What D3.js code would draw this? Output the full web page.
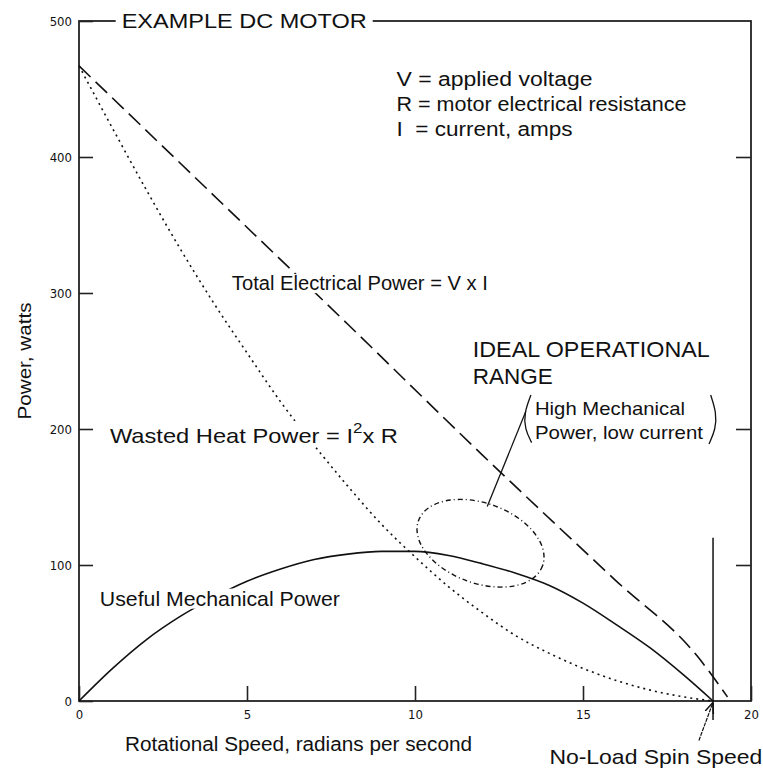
<!DOCTYPE html>
<html>
<head>
<meta charset="utf-8">
<script src="https://cdn.jsdelivr.net/npm/d3@7"></script>
<style>
  body { margin: 0; background: #fff; }
  text { font-family: "Liberation Sans", Arial, sans-serif; fill: #111; }
  .tick text { font-family: "DejaVu Sans Condensed", "Liberation Sans Narrow", sans-serif; font-size: 13px; }
</style>
</head>
<body>
<div id="chart"></div>
<script>
// rotational speed, radians per second
const speed = [0, 1, 2, 3, 4, 5, 6, 7, 8, 9, 10, 11, 12, 13, 14, 15, 16, 17, 18, 18.87];
// watts
const mechPower = [0, 24, 45, 62, 76, 88, 97, 104, 108, 110, 110, 107, 101, 94, 85, 72, 56, 39, 19, 0];
const heatPower = [467, 421, 376, 333, 293, 256, 220, 188, 158, 130, 106, 84, 65, 48, 35, 24, 15, 8, 3, 0];
const elecSpeed = [0, 4, 8, 12, 16, 18.4, 19.3];
const elecPower = [467, 372, 277, 181, 88, 33, 3];

const xTicks = [0, 5, 10, 15, 20];
const yTicks = [0, 100, 200, 300, 400, 500];
const yTicksRight = [100, 200, 400];
const noLoadSpeed = 18.87;

const legendLines = ["V = applied voltage", "R = motor electrical resistance", "I\u00a0\u00a0= current, amps"];
const legendWidths = [196, 290, 176];

const width = 763, height = 770;
const margin = {top: 21, right: 12, bottom: 69, left: 79};
const w = width - margin.left - margin.right;
const h = height - margin.top - margin.bottom;

const svg = d3.select("#chart").append("svg")
  .attr("width", width)
  .attr("height", height);

const g = svg.append("g")
  .attr("transform", `translate(${margin.left},${margin.top})`);

const x = d3.scaleLinear().domain([0, 20]).range([0, w]);
const y = d3.scaleLinear().domain([0, 500]).range([h, 0]);

// frame
g.append("rect")
  .attr("width", w).attr("height", h)
  .attr("fill", "none").attr("stroke", "#222").attr("stroke-width", 1.8);

// axes (ticks point inward)
const xAxis = g.append("g")
  .attr("transform", `translate(0,${h})`)
  .call(d3.axisBottom(x).tickValues(xTicks).tickSize(-15).tickPadding(9));
const yAxis = g.append("g")
  .call(d3.axisLeft(y).tickValues(yTicks).tickSize(-14).tickPadding(7));
const yAxisR = g.append("g")
  .attr("transform", `translate(${w},0)`)
  .call(d3.axisRight(y).tickValues(yTicksRight).tickSize(-15).tickFormat(""));
[xAxis, yAxis, yAxisR].forEach(a => {
  a.select(".domain").remove();
  a.selectAll(".tick line").attr("stroke", "#222").attr("stroke-width", 1.6);
  a.selectAll(".tick text").attr("fill", "#111");
});

// curves
const line = (xs, ys, curve) => d3.line()
  .x((d, i) => x(xs[i]))
  .y(d => y(d))
  .curve(curve)(ys);

g.append("path")
  .attr("d", line(elecSpeed, elecPower, d3.curveMonotoneX))
  .attr("fill", "none").attr("stroke", "#111").attr("stroke-width", 1.6)
  .attr("stroke-dasharray", "16,7");

g.append("path")
  .attr("d", line(speed, heatPower, d3.curveMonotoneX))
  .attr("fill", "none").attr("stroke", "#111").attr("stroke-width", 1.6)
  .attr("stroke-dasharray", "2,4");

g.append("path")
  .attr("d", line(speed, mechPower, d3.curveMonotoneX))
  .attr("fill", "none").attr("stroke", "#111").attr("stroke-width", 1.6);

// ideal operational range ellipse
const ell = {cx: 11.95, cy: 116, rx: 66, ry: 40, rot: 20};
g.append("ellipse")
  .attr("transform", `translate(${x(ell.cx)},${y(ell.cy)}) rotate(${ell.rot})`)
  .attr("rx", ell.rx).attr("ry", ell.ry)
  .attr("fill", "none").attr("stroke", "#111").attr("stroke-width", 1.4)
  .attr("stroke-dasharray", "5,3,1,3");

// leader from ellipse to the label
g.append("line")
  .attr("x1", x(13.3)).attr("y1", y(213))
  .attr("x2", x(12.15)).attr("y2", y(143))
  .attr("stroke", "#111").attr("stroke-width", 1.3);

// no-load spin speed marker
g.append("line")
  .attr("x1", x(noLoadSpeed)).attr("y1", y(120))
  .attr("x2", x(noLoadSpeed)).attr("y2", y(-14))
  .attr("stroke", "#111").attr("stroke-width", 1.5);

svg.append("defs").append("marker")
  .attr("id", "arrow")
  .attr("viewBox", "0 0 10 10").attr("refX", 10).attr("refY", 5)
  .attr("markerWidth", 9).attr("markerHeight", 9)
  .attr("orient", "auto")
  .append("path").attr("d", "M0,1 L10,5 L0,9")
  .attr("fill", "none").attr("stroke", "#111").attr("stroke-width", 1.4);

g.append("line")
  .attr("x1", x(18.45)).attr("y1", y(-29))
  .attr("x2", x(noLoadSpeed)).attr("y2", y(-1))
  .attr("stroke", "#111").attr("stroke-width", 1.2)
  .attr("stroke-dasharray", "4,1")
  .attr("marker-end", "url(#arrow)");

// labels; a white backing makes the curves break around them
function backing(parent, t, pad) {
  const b = t.node().getBBox();
  parent.insert("rect", () => t.node())
    .attr("x", b.x - pad).attr("y", b.y + 2)
    .attr("width", b.width + 2 * pad).attr("height", b.height - 3)
    .attr("fill", "#fff");
}
function label(parent, txt, px, py, size, len, bg) {
  const t = parent.append("text")
    .attr("x", px).attr("y", py)
    .style("font-size", size + "px")
    .text(txt);
  if (len) t.attr("textLength", len).attr("lengthAdjust", "spacingAndGlyphs");
  if (bg) backing(parent, t, bg);
  return t;
}

label(g, "EXAMPLE DC MOTOR", x(1.27), y(500) + 7, 21, 245, 6);

legendLines.forEach((s, i) => {
  label(g, s, x(9.45), 65 + i * 25, 20, legendWidths[i], 0);
});

label(g, "Total Electrical Power = V x I", x(4.55), y(308) + 8, 20, 256, 3);

const heat = label(g, "Wasted Heat Power = I", x(0.92), y(192) + 3, 21, 0, 0);
heat.append("tspan").attr("dy", -10).style("font-size", "15px").text("2");
heat.append("tspan").attr("dy", 10).text("x R");
heat.attr("textLength", 288).attr("lengthAdjust", "spacingAndGlyphs");
backing(g, heat, 3);

label(g, "Useful Mechanical Power", x(0.62), y(76) + 8, 21, 240, 3);

label(g, "IDEAL OPERATIONAL", x(11.72), y(254) + 1, 22, 237, 0);
label(g, "RANGE", x(11.72), y(254) + 28, 22, 80, 0);
label(g, "High Mechanical", x(13.57), y(210), 19, 150, 0);
label(g, "Power, low current", x(13.57), y(210) + 24, 19, 168, 0);

// big parentheses around the two lines
const paren = d3.line().curve(d3.curveBasis);
g.append("path")
  .attr("d", paren([[x(13.45), y(225)], [x(13.25), y(212)], [x(13.27), y(200)], [x(13.47), y(190)]]))
  .attr("fill", "none").attr("stroke", "#111").attr("stroke-width", 1.3);
g.append("path")
  .attr("d", paren([[x(18.8), y(225)], [x(18.97), y(212)], [x(18.95), y(200)], [x(18.75), y(189)]]))
  .attr("fill", "none").attr("stroke", "#111").attr("stroke-width", 1.3);

// axis titles
svg.append("text")
  .attr("x", x(1.37) + margin.left).attr("y", height - 19)
  .attr("textLength", 347).attr("lengthAdjust", "spacingAndGlyphs")
  .style("font-size", "20px")
  .text("Rotational Speed, radians per second");

svg.append("text")
  .attr("x", x(14.0) + margin.left).attr("y", height - 6)
  .attr("textLength", 213).attr("lengthAdjust", "spacingAndGlyphs")
  .style("font-size", "21px")
  .text("No-Load Spin Speed");

svg.append("text")
  .attr("transform", `translate(31,${y(250) + margin.top}) rotate(-90)`)
  .attr("text-anchor", "middle")
  .attr("textLength", 117).attr("lengthAdjust", "spacingAndGlyphs")
  .style("font-size", "19px")
  .text("Power, watts");
</script>
</body>
</html>
